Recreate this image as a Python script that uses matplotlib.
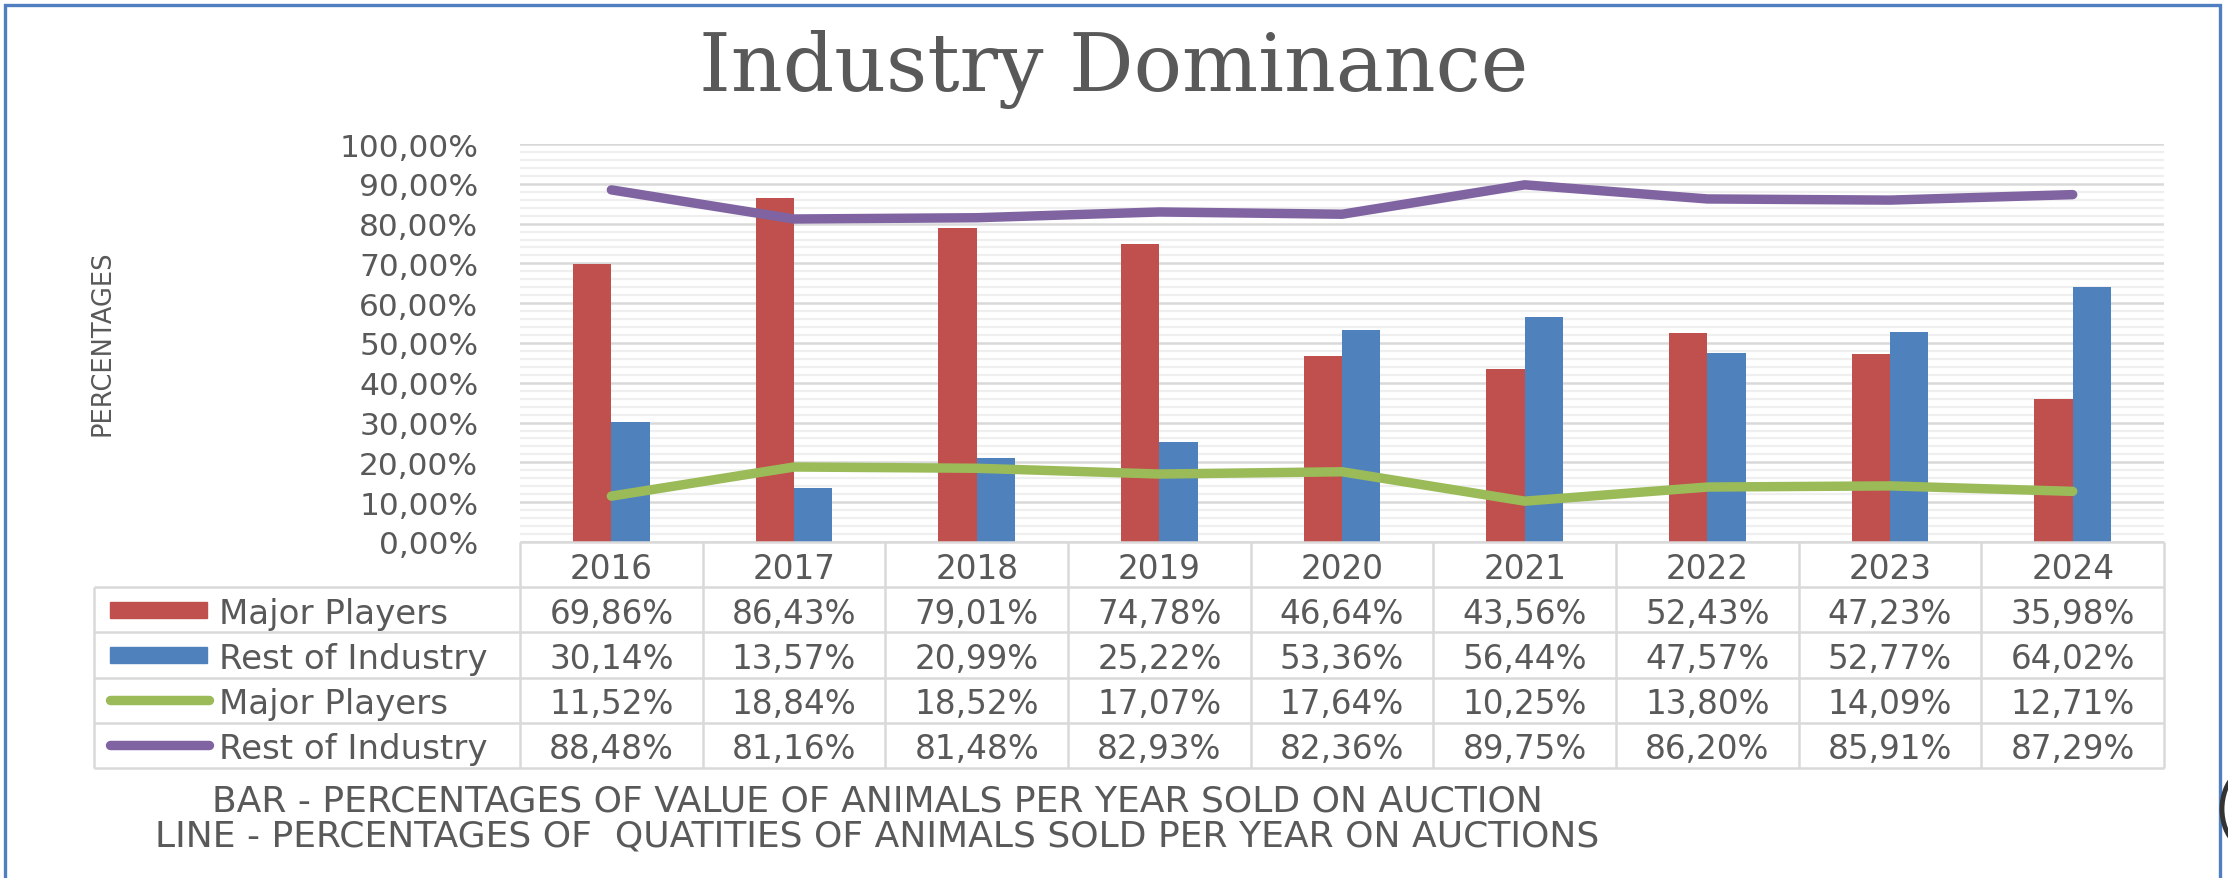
import numpy as np
import matplotlib
matplotlib.use("Agg")
import matplotlib.pyplot as plt
from matplotlib.ticker import FuncFormatter, MultipleLocator
from matplotlib.patches import Rectangle, Arc

years = ["2016", "2017", "2018", "2019", "2020", "2021", "2022", "2023", "2024"]
bar_major = [69.86, 86.43, 79.01, 74.78, 46.64, 43.56, 52.43, 47.23, 35.98]
bar_rest = [30.14, 13.57, 20.99, 25.22, 53.36, 56.44, 47.57, 52.77, 64.02]
line_major = [11.52, 18.84, 18.52, 17.07, 17.64, 10.25, 13.80, 14.09, 12.71]
line_rest = [88.48, 81.16, 81.48, 82.93, 82.36, 89.75, 86.20, 85.91, 87.29]
series_names = ["Major Players", "Rest of Industry", "Major Players", "Rest of Industry"]

RED = "#C0504D"
BLUE = "#4F81BD"
GREEN = "#9BBB59"
PURPLE = "#8064A2"
TXT = "#595959"
GRID = "#D9D9D9"


def pct(v):
    return f"{v:.2f}%".replace(".", ",")


fig = plt.figure(figsize=(22.28, 8.79), dpi=100)
fig.patch.set_facecolor("white")

# main plot area
ax = fig.add_axes([0.2334, 0.3823, 0.7379, 0.4527])
x = np.arange(len(years))
w = 0.21
ax.bar(x - w / 2, bar_major, w, color=RED, zorder=2)
ax.bar(x + w / 2, bar_rest, w, color=BLUE, zorder=2)
ax.plot(x, line_major, color=GREEN, lw=6.8, solid_capstyle="round", solid_joinstyle="round", zorder=3)
ax.plot(x, line_rest, color=PURPLE, lw=6.8, solid_capstyle="round", solid_joinstyle="round", zorder=3)

ax.set_xlim(-0.5, len(years) - 0.5)
ax.set_ylim(0, 100)
ax.yaxis.set_major_locator(MultipleLocator(10))
ax.yaxis.set_minor_locator(MultipleLocator(2))
ax.yaxis.set_major_formatter(FuncFormatter(lambda v, p: pct(v)))
ax.grid(which="minor", axis="y", color="#EFEFEF", lw=1.6)
ax.grid(which="major", axis="y", color=GRID, lw=1.8)
ax.set_axisbelow(True)
ax.tick_params(axis="y", which="both", length=0, pad=30, labelsize=22.5, labelcolor=TXT)
ax.set_xticks([])
for s in ax.spines.values():
    s.set_visible(False)

# data table under the plot
tab = fig.add_axes([0.0422, 0.1251, 0.9291, 0.2572])
left = -0.5 - 2.332
tab.set_xlim(left, len(years) - 0.5)
tab.set_ylim(5, 0)
tab.axis("off")

n = len(years)
tab.hlines(0, -0.5, n - 0.5, color=GRID, lw=1.8, clip_on=False)
tab.hlines(range(1, 6), left, n - 0.5, color=GRID, lw=1.8, clip_on=False)
tab.vlines(left, 1, 5, color=GRID, lw=1.8, clip_on=False)
tab.vlines(np.arange(n + 1) - 0.5, 0, 5, color=GRID, lw=1.8, clip_on=False)

for i, yr in enumerate(years):
    tab.text(i, 0.5, yr, ha="center", va="center_baseline", fontsize=23.5, color=TXT)

rows = [bar_major, bar_rest, line_major, line_rest]
colors = [RED, BLUE, GREEN, PURPLE]
for r, (vals, name, c) in enumerate(zip(rows, series_names, colors), start=1):
    yc = r + 0.5
    if r <= 2:
        tab.add_patch(Rectangle((left + 0.088, yc - 0.18), 0.53, 0.36, color=c, clip_on=False))
    else:
        tab.plot([left + 0.088, left + 0.63], [yc, yc], color=c, lw=6.8,
                 solid_capstyle="round", clip_on=False)
    tab.text(left + 0.684, yc, name, ha="left", va="center_baseline", fontsize=24.5, color=TXT)
    for i, v in enumerate(vals):
        tab.text(i, yc, pct(v), ha="center", va="center_baseline", fontsize=23.5, color=TXT)

# titles and notes
fig.text(0.5, 0.8965, "Industry Dominance", ha="center", va="baseline",
         fontsize=58, color=TXT, family="DejaVu Serif")
fig.text(0.0458, 0.6098, "PERCENTAGES", rotation=90, ha="center", va="center",
         fontsize=18.5, color=TXT)
fig.text(0.3936, 0.0876, "BAR - PERCENTAGES OF VALUE OF ANIMALS PER YEAR SOLD ON AUCTION",
         ha="center", va="center", fontsize=26, color=TXT)
fig.text(0.3936, 0.0478, "LINE - PERCENTAGES OF  QUATITIES OF ANIMALS SOLD PER YEAR ON AUCTIONS",
         ha="center", va="center", fontsize=26, color=TXT)

# outer frame of the screenshot and the clipped round shape at its right edge
fig.add_artist(Rectangle((5 / 2228, -0.02), 2215 / 2228, 1.02 - 6 / 879, transform=fig.transFigure,
                         fill=False, edgecolor="#4F7FC0", lw=2.4))
fig.add_artist(Arc((2250 / 2228, 1 - 810 / 879), 56 / 2228, 80 / 879, theta1=100, theta2=260,
                   transform=fig.transFigure, color="#333333", lw=3.5))

fig.savefig("out.png", dpi=100)
